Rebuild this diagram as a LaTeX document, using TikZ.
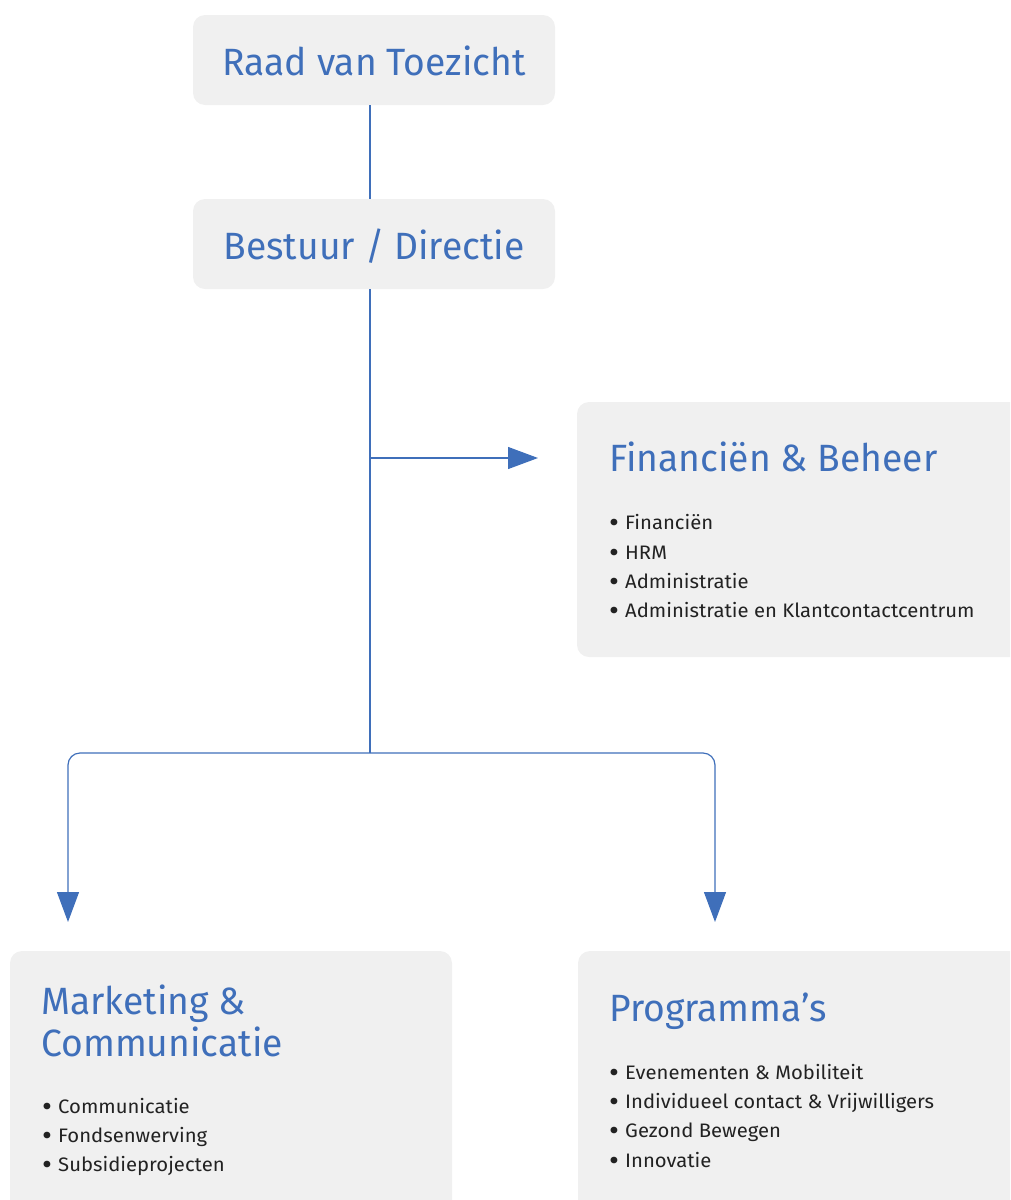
\documentclass[tikz,border=0pt]{standalone}
\usepackage{fontspec}
\setmainfont{Fira Sans}[FakeStretch=0.98]
\newfontfamily\itemfont{Fira Sans}[FakeStretch=1.04]
\usetikzlibrary{arrows.meta}
\definecolor{orgblue}{HTML}{3F6FBA}
\definecolor{boxgray}{HTML}{F0F0F0}
\definecolor{itemtext}{HTML}{222222}
\newcommand{\orgitem}[1]{\makebox[16pt][l]{\raisebox{-3.2pt}{\scalebox{1.5}{\textbullet}}}#1}
\begin{document}
\begin{tikzpicture}[x=1pt,y=-1pt,
  orgbox/.style={fill=boxgray, rounded corners=12pt, draw=none, inner sep=0pt},
  titletext/.style={text=orgblue, font=\fontsize{38}{42}\selectfont, inner sep=0pt},
  itemline/.style={text=itemtext, font=\itemfont\fontsize{19.5}{24}\selectfont, inner sep=0pt, anchor=base west},
  conn/.style={draw=orgblue, line width=1.2pt},
  tip/.style={-{Triangle[length=30pt,width=22pt]}}
]
\useasboundingbox (0,0) rectangle (1010,1200);
\clip (0,0) rectangle (1010,1200);

% boxes
\node[orgbox, minimum width=362pt, minimum height=90pt] (raad) at (374,60) {};
\node[orgbox, minimum width=362pt, minimum height=90pt] (bestuur) at (374,244) {};
\node[orgbox, minimum width=453pt, minimum height=255pt] (fin) at (803.5,529.5) {};
\node[orgbox, minimum width=442pt, minimum height=264pt] (mkt) at (231,1083) {};
\node[orgbox, minimum width=452pt, minimum height=264pt] (prog) at (804,1083) {};

% titles
\node[titletext, anchor=base] (raadtxt) at (374,75) {Raad van Toezicht};
\node[titletext, anchor=base] (bestuurtxt) at (374,259) {Bestuur / Directie};
\node[titletext, anchor=base west] (fintxt) at (609,471) {Financiën \& Beheer};
\node[titletext, anchor=base west] (mkttxta) at (41,1014) {Marketing \&};
\node[titletext, anchor=base west] (mkttxtb) at (41,1056) {Communicatie};
\node[titletext, anchor=base west] (progtxt) at (609,1021) {Programma’s};

% items
\node[itemline] (fin1) at (609,529) {\orgitem{Financiën}};
\node[itemline] (fin2) at (609,559) {\orgitem{HRM}};
\node[itemline] (fin3) at (609,588) {\orgitem{Administratie}};
\node[itemline] (fin4) at (609,617) {\orgitem{Administratie en Klantcontactcentrum}};

\node[itemline] (mkt1) at (42,1113) {\orgitem{Communicatie}};
\node[itemline] (mkt2) at (42,1142) {\orgitem{Fondsenwerving}};
\node[itemline] (mkt3) at (42,1171) {\orgitem{Subsidieprojecten}};

\node[itemline] (prog1) at (609,1079) {\orgitem{Evenementen \& Mobiliteit}};
\node[itemline] (prog2) at (609,1108) {\orgitem{Individueel contact \& Vrijwilligers}};
\node[itemline] (prog3) at (609,1137) {\orgitem{Gezond Bewegen}};
\node[itemline] (prog4) at (609,1167) {\orgitem{Innovatie}};

% connectors
\coordinate (spine) at (370,0);
\coordinate (finjoin) at (370,458);
\coordinate (fintip) at (538,458);
\coordinate (split) at (370,753);
\coordinate (mktip) at (68,922);
\coordinate (progtip) at (715,922);

\draw[conn] (raad.south -| spine) -- (bestuur.north -| spine);
\draw[conn] (bestuur.south -| spine) -- (split);
\draw[conn, tip] (finjoin) -- (fintip);
\draw[conn, tip, rounded corners=12pt] (split) -| (mktip);
\draw[conn, tip, rounded corners=12pt] (split) -| (progtip);
\end{tikzpicture}
\end{document}
